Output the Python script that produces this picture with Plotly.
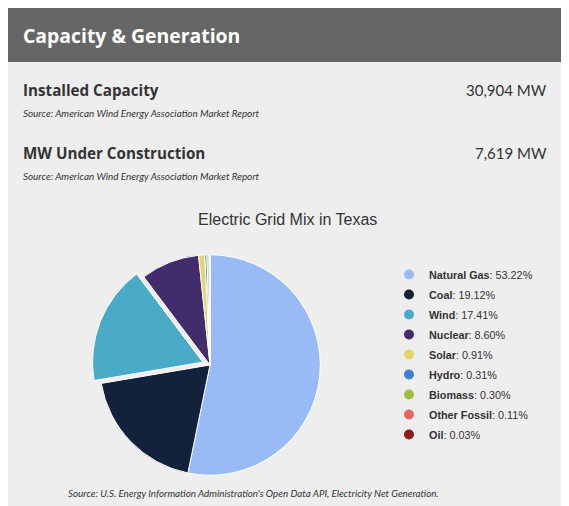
import plotly.graph_objects as go

W, H = 569, 506
OFF = 8  # the page puts the figure 8px in from the window corner

# grid mix data (percent of net generation)
sources = ["Natural Gas", "Coal", "Wind", "Nuclear", "Solar", "Hydro",
           "Biomass", "Other Fossil", "Oil"]
shares = [53.22, 19.12, 17.41, 8.60, 0.91, 0.31, 0.30, 0.11, 0.03]
colors = ["#99bbf5", "#13223a", "#4aabc8", "#432c6b", "#e5d46a", "#3f7fd8",
          "#9dbf3f", "#e46565", "#8b1a1a"]
pulled = ["Wind"]

# stat rows above the chart
stat_names = ["Installed Capacity", "MW Under Construction"]
stat_values = ["30,904 MW", "7,619 MW"]
stat_source = "Source: American Wind Energy Association Market Report"
chart_source = ("Source: U.S. Energy Information Administration's Open Data API, "
                "Electricity Net Generation.")


def px(x):
    return (x - OFF) / W


def py(y):
    return 1 - (y - OFF) / H


fig = go.Figure()

fig.add_trace(go.Pie(
    labels=sources,
    values=shares,
    sort=False,
    direction="clockwise",
    rotation=0,
    pull=[0.07 if s in pulled else 0 for s in sources],
    marker=dict(colors=colors, line=dict(color="white", width=1)),
    textinfo="none",
    showlegend=False,
    domain=dict(x=[px(92), px(328)], y=[py(483), py(247)]),
))

# legend entries with round markers
for s, v, c in zip(sources, shares, colors):
    fig.add_trace(go.Scatter(
        x=[None], y=[None], mode="markers",
        marker=dict(color=c, size=10, symbol="circle"),
        name=f"<b>{s}</b>: {v:.2f}%",
        legendgroup=s,
    ))

shapes = [
    dict(type="rect", xref="paper", yref="paper", x0=px(8), x1=px(562),
         y0=py(530), y1=py(62), fillcolor="#eeeeee", line_width=0, layer="below"),
    dict(type="rect", xref="paper", yref="paper", x0=px(8), x1=px(562),
         y0=py(62), y1=py(8), fillcolor="#666666", line_width=0, layer="below"),
]

annotations = [
    dict(text="<b>Capacity &amp; Generation</b>", x=px(21), y=py(35),
         font=dict(family="Open Sans", size=19.4, color="white")),
    dict(text="Electric Grid Mix in Texas", x=px(287), y=py(219), xanchor="center",
         font=dict(family="Liberation Sans", size=16, color="#333333")),
    dict(text=f"<i>{chart_source}</i>", x=px(253), y=py(493), xanchor="center",
         font=dict(family="Lato", size=9.8, color="#333333")),
]
for i, (n, v) in enumerate(zip(stat_names, stat_values)):
    y0 = 90 + i * 63
    annotations.append(dict(text=f"<b>{n}</b>", x=px(21), y=py(y0),
                            font=dict(family="Open Sans", size=15.2, color="#333333")))
    annotations.append(dict(text=v, x=px(549), y=py(y0), xanchor="right",
                            font=dict(family="Lato", size=15, color="#333333")))
    annotations.append(dict(text=f"<i>{stat_source}</i>", x=px(21), y=py(y0 + 23),
                            font=dict(family="Lato", size=9.9, color="#333333")))

for a in annotations:
    a.setdefault("xanchor", "left")
    a.update(xref="paper", yref="paper", yanchor="middle", showarrow=False)

fig.update_layout(
    width=W, height=H,
    margin=dict(l=0, r=0, t=0, b=0),
    paper_bgcolor="white",
    plot_bgcolor="rgba(0,0,0,0)",
    xaxis=dict(visible=False),
    yaxis=dict(visible=False),
    shapes=shapes,
    annotations=annotations,
    showlegend=True,
    legend=dict(x=px(389), y=py(260), xanchor="left", yanchor="top",
                bgcolor="rgba(0,0,0,0)", tracegroupgap=1,
                font=dict(family="Liberation Sans", size=10.8, color="#333333"),
                itemclick=False, itemdoubleclick=False),
)

fig.write_html("out.html")
